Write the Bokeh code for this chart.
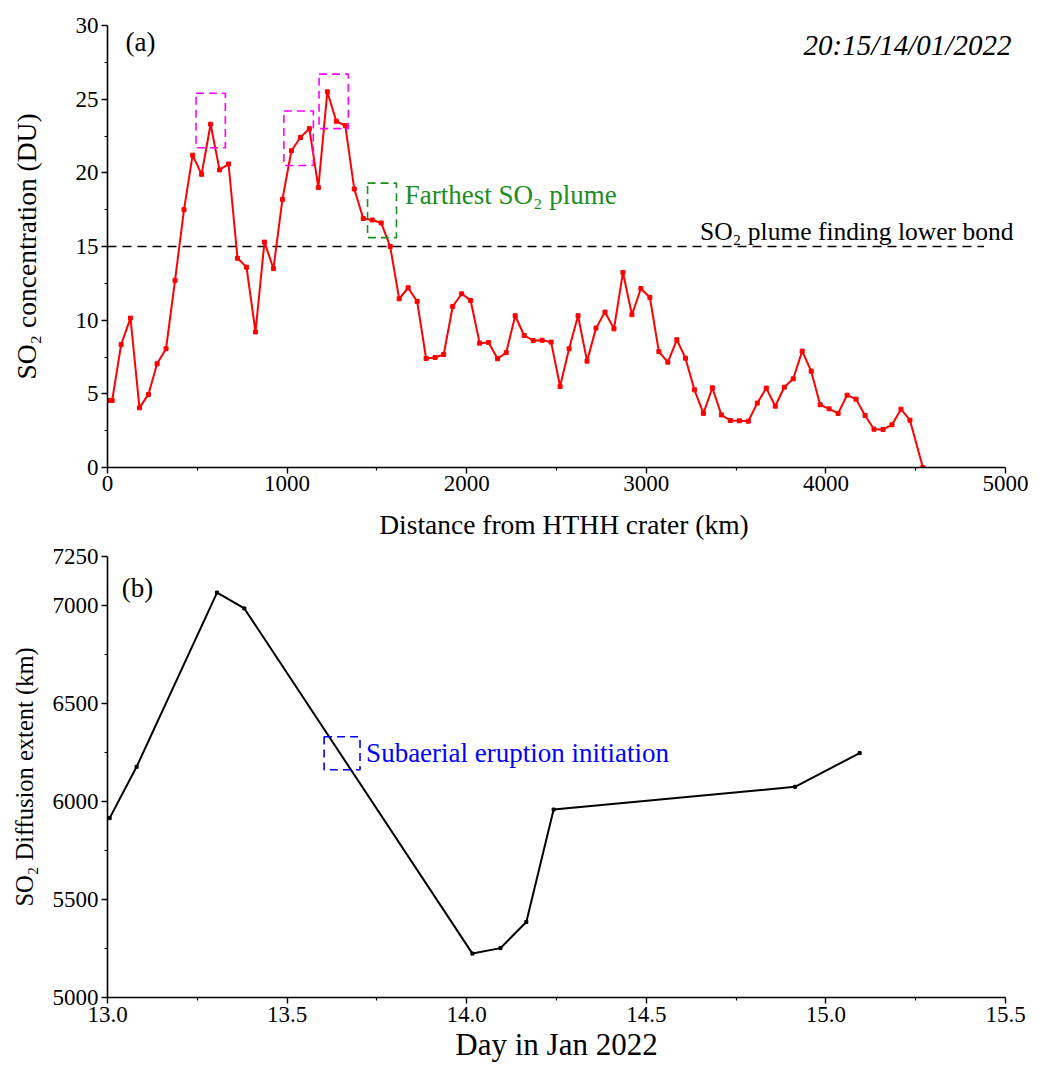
from bokeh.plotting import figure
from bokeh.models import Label, BoxAnnotation, FixedTicker, Range1d, NumeralTickFormatter
from bokeh.layouts import column
from bokeh.embed import file_html
from bokeh.resources import INLINE

# ---------------- data: panel (a) ----------------
distance_km = [7, 26, 76, 128, 178, 228, 276, 326, 376, 426, 474, 524, 574, 624, 674, 724, 774, 824,
               874, 924, 974, 1024, 1074, 1124, 1174, 1224, 1274, 1324, 1374, 1424, 1474, 1524, 1574, 1624,
               1674, 1724, 1774, 1824, 1872, 1922, 1972, 2022, 2072, 2122, 2172, 2220, 2270, 2320, 2370,
               2420, 2470, 2520, 2570, 2620, 2670, 2720, 2770, 2820, 2870, 2920, 2970, 3020, 3070, 3120, 3170,
               3218, 3268, 3318, 3368, 3418, 3468, 3518, 3568, 3618, 3668, 3718, 3768, 3818, 3868, 3918,
               3968, 4018, 4068, 4118, 4168, 4218, 4268, 4318, 4368, 4418, 4468, 4540]
so2_du = [4.55, 4.55, 8.35, 10.14, 4.05, 4.96, 7.04, 8.06, 12.7, 17.5, 21.2, 19.9, 23.3, 20.2, 20.6, 14.2,
          13.6, 9.2, 15.3, 13.5, 18.2, 21.5, 22.4, 23.0, 19.0, 25.5, 23.5, 23.2, 18.9, 16.9, 16.8, 16.6, 15.0, 11.45,
          12.2, 11.27, 7.4, 7.47, 7.67, 10.93, 11.79, 11.34, 8.44, 8.49, 7.38, 7.8, 10.3, 8.96, 8.62, 8.64,
          8.51, 5.5, 8.06, 10.3, 7.22, 9.46, 10.55, 9.41, 13.24, 10.37, 12.15, 11.54, 7.87, 7.15, 8.67,
          7.42, 5.27, 3.67, 5.41, 3.57, 3.19, 3.17, 3.14, 4.37, 5.39, 4.16, 5.45, 6.02, 7.9, 6.54, 4.26,
          3.98, 3.67, 4.91, 4.64, 3.53, 2.6, 2.58, 2.9, 3.96, 3.21, 0.0]
threshold_du = 15
threshold_x = [0, 4880]
x_ticks_a = [0, 1000, 2000, 3000, 4000, 5000]
x_minor_a = [500, 1500, 2500, 3500, 4500]
y_ticks_a = [0, 5, 10, 15, 20, 25, 30]
y_minor_a = [2.5, 7.5, 12.5, 17.5, 22.5, 27.5]
# highlight boxes (left, right, bottom, top)
peak_boxes = [(493, 656, 21.7, 25.4), (982, 1146, 20.5, 24.2), (1178, 1341, 23.0, 26.7)]
farthest_box = (1448, 1609, 15.6, 19.3)

# ---------------- data: panel (b) ----------------
day_jan = [13.006, 13.081, 13.305, 13.381, 14.016, 14.094, 14.166, 14.242, 14.914, 15.094]
extent_km = [5915, 6177, 7066, 6985, 5224, 5252, 5385, 5959, 6075, 6247]
x_ticks_b = [13.0, 13.5, 14.0, 14.5, 15.0, 15.5]
x_minor_b = [13.25, 13.75, 14.25, 14.75, 15.25]
y_ticks_b = [5000, 5500, 6000, 6500, 7000, 7250]
y_minor_b = [5250, 5750, 6250, 6750]
eruption_box = (13.603, 13.703, 6162, 6330)

FONT = "Liberation Serif"


def style(p):
    p.outline_line_color = None
    p.grid.visible = False
    p.background_fill_color = "white"
    p.border_fill_color = "white"
    for ax in p.axis:
        ax.axis_line_width = 1.6
        ax.axis_line_color = "black"
        ax.major_tick_line_color = "black"
        ax.minor_tick_line_color = "black"
        ax.major_tick_line_width = 1.4
        ax.minor_tick_line_width = 1.2
        ax.major_tick_out = 6
        ax.major_tick_in = 0
        ax.minor_tick_out = 3
        ax.minor_tick_in = 0
        ax.major_label_text_font = FONT
        ax.major_label_text_font_size = "23px"
        ax.major_label_text_color = "black"
        ax.major_label_standoff = 3
        ax.axis_label_text_font = FONT
        ax.axis_label_text_font_size = "27.5px"
        ax.axis_label_text_font_style = "normal"
        ax.axis_label_text_color = "black"


# ---------------- panel (a) ----------------
# frame extends a little past 5000 km so the right-aligned texts fit; axis line stops at 5000
p1 = figure(frame_width=913, frame_height=442, min_border_left=107, min_border_right=15,
            min_border_top=25, min_border_bottom=75,
            x_range=Range1d(0, 5083.5), y_range=Range1d(0, 30),
            output_backend="svg", toolbar_location=None)
style(p1)
p1.xaxis.bounds = (0, 5000)
p1.xaxis.ticker = FixedTicker(ticks=x_ticks_a, minor_ticks=x_minor_a)
p1.yaxis.ticker = FixedTicker(ticks=y_ticks_a, minor_ticks=y_minor_a)
p1.xaxis.axis_label = "Distance from HTHH crater (km)"
p1.yaxis.axis_label = "SO\u2082 concentration (DU)"
p1.xaxis.major_label_standoff = 2
p1.xaxis.axis_label_standoff = 15
p1.yaxis.axis_label_standoff = 31

p1.line(threshold_x, [threshold_du, threshold_du], line_color="black", line_width=1.5, line_dash="9 6")
p1.line(distance_km, so2_du, line_color="red", line_width=2)
p1.scatter(distance_km, so2_du, marker="square", size=4, color="red")

for (l, r, b, t) in peak_boxes:
    p1.add_layout(BoxAnnotation(left=l, right=r, bottom=b, top=t, fill_alpha=0, line_alpha=1,
                                line_color="#FF00FF", line_width=1.6, line_dash="8 5"))
l, r, b, t = farthest_box
p1.add_layout(BoxAnnotation(left=l, right=r, bottom=b, top=t, fill_alpha=0, line_alpha=1,
                            line_color="#1E8C1E", line_width=1.6, line_dash="8 5"))

p1.add_layout(Label(x=100, y=28.9, text="(a)", text_font=FONT, text_font_size="27px",
                    text_color="black", text_baseline="middle"))
p1.add_layout(Label(x=5033, y=28.65, text="20:15/14/01/2022", text_font=FONT, text_font_size="29px",
                    text_color="black", text_font_style="italic", text_align="right",
                    text_baseline="middle"))
p1.add_layout(Label(x=5044, y=16.05, text="SO\u2082 plume finding lower bond", text_font=FONT,
                    text_font_size="25.5px", text_color="black", text_align="right",
                    text_baseline="middle"))
p1.add_layout(Label(x=1655, y=18.5, text="Farthest SO\u2082 plume", text_font=FONT,
                    text_font_size="27px", text_color="#1E8C1E", text_baseline="middle"))

# ---------------- panel (b) ----------------
p2 = figure(frame_width=898, frame_height=441, min_border_left=107, min_border_right=30,
            min_border_top=14, min_border_bottom=60,
            x_range=Range1d(13.0, 15.5), y_range=Range1d(5000, 7250),
            output_backend="svg", toolbar_location=None)
style(p2)
p2.xaxis.ticker = FixedTicker(ticks=x_ticks_b, minor_ticks=x_minor_b)
p2.yaxis.ticker = FixedTicker(ticks=y_ticks_b, minor_ticks=y_minor_b)
p2.xaxis.formatter = NumeralTickFormatter(format="0.0")
p2.xaxis.axis_label = "Day in Jan 2022"
p2.yaxis.axis_label = "SO\u2082 Diffusion extent (km)"
p2.xaxis.axis_label_text_font_size = "31px"
p2.yaxis.axis_label_text_font_size = "24.5px"
p2.xaxis.axis_label_standoff = 2
p2.yaxis.axis_label_standoff = 12

p2.line(day_jan, extent_km, line_color="black", line_width=2)
p2.scatter(day_jan, extent_km, marker="square", size=3, color="black")

l, r, b, t = eruption_box
p2.add_layout(BoxAnnotation(left=l, right=r, bottom=b, top=t, fill_alpha=0, line_alpha=1,
                            line_color="#0000FF", line_width=1.6, line_dash="8 5"))
p2.add_layout(Label(x=13.04, y=7090, text="(b)", text_font=FONT, text_font_size="27px",
                    text_color="black", text_baseline="middle"))
p2.add_layout(Label(x=13.72, y=6248, text="Subaerial eruption initiation", text_font=FONT,
                    text_font_size="27px", text_color="#0000FF", text_baseline="middle"))

layout = column(p1, p2, spacing=0)
open("out.html", "w").write(file_html(layout, INLINE))
